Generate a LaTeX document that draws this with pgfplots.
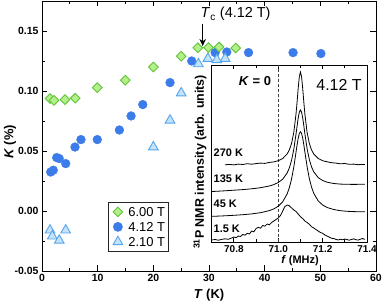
\documentclass[border=0pt]{standalone}
\usepackage{fontspec}
\setmainfont{Liberation Sans}
\usepackage{pgfplots}
\pgfplotsset{compat=1.18}
\usetikzlibrary{arrows.meta}
\definecolor{gfill}{HTML}{B2F08A}
\definecolor{gedge}{HTML}{62C23A}
\definecolor{cblue}{HTML}{3B7BEA}
\definecolor{tfill}{HTML}{C4E2FA}
\definecolor{tedge}{HTML}{55A6EC}
\begin{document}
\begin{tikzpicture}
\begin{axis}[
  at={(0,0)}, anchor=south west,
  scale only axis, width=334bp, height=270bp,
  xmin=0, xmax=60, ymin=-0.05, ymax=0.175,
  xtick={0,10,...,60}, ytick={-0.05,0,0.05,0.10,0.15},
  minor x tick num=1, minor y tick num=1,
  tick align=inside, major tick length=5.5bp, minor tick length=3bp,
  axis line style={line width=0.9bp},
  every tick/.style={line width=0.9bp, black},
  /pgf/number format/assume math mode=true,
  ticklabel style={font=\fontsize{10.5}{12}\selectfont\bfseries},
  yticklabel style={/pgf/number format/.cd, fixed, fixed zerofill, precision=2},
  xticklabel style={/pgf/number format/.cd, fixed, precision=0},
  legend cell align=left,
  legend style={at={(rel axis cs:0.1976,0.2567)}, anchor=north west,
    draw=black!85, line width=0.9bp, inner xsep=1bp, inner ysep=3bp,
    row sep=1.5bp, font=\fontsize{13}{15}\selectfont,
    nodes={text height=9.5bp, text depth=0bp}},
  legend image code/.code={\path (0bp,0bp) (16bp,0bp); \draw[#1] plot coordinates {(8bp,0bp)};},
]
\addlegendimage{only marks, mark=square*, mark size=3.4bp, mark options={rotate=45, fill=gfill, draw=gedge, line width=0.9bp}}
\addlegendentry{6.00 T}
\addlegendimage{only marks, mark=*, mark size=4.4bp, mark options={fill=cblue, draw=cblue}}
\addlegendentry{4.12 T}
\addlegendimage{only marks, mark=triangle*, mark size=5.6bp, mark options={fill=tfill, draw=tedge, line width=0.9bp}}
\addlegendentry{2.10 T}
% 4.12 T
\addplot[forget plot, only marks, mark=*, mark size=4.4bp, mark options={fill=cblue, draw=cblue}] coordinates {
(1.56,0.0325) (2.03,0.034) (2.64,0.0445) (3.1,0.0437) (4.26,0.0395) (5.93,0.0533) (7.0,0.0595) (9.93,0.0595) (13.9,0.0675) (16.0,0.0792) (18.1,0.0887) (23.0,0.107) (26.9,0.125) (31.1,0.132) (33.2,0.1325) (37.1,0.132) (45.1,0.132) (50.1,0.1312)
};
% 2.10 T
\addplot[forget plot, only marks, mark=triangle*, mark size=5.6bp, mark options={fill=tfill, draw=tedge, line width=0.9bp}] coordinates {
(1.44,-0.016) (1.85,-0.021) (3.1,-0.0245) (4.26,-0.016) (20.0,0.0533) (23.0,0.0756) (25.0,0.0983) (28.1,0.1225) (29.8,0.127) (31.4,0.126) (32.9,0.127)
};
% 6.00 T
\addplot[forget plot, only marks, mark=square*, mark size=3.4bp, mark options={rotate=45, fill=gfill, draw=gedge, line width=0.9bp}] coordinates {
(1.44,0.0937) (2.16,0.0922) (4.13,0.0928) (5.97,0.094) (9.93,0.1028) (14.96,0.109) (20.0,0.120) (25.0,0.129) (28.0,0.136) (29.9,0.1362) (31.8,0.1367) (34.8,0.1358)
};
\end{axis}
% inset
\begin{axis}[
  at={(169.7bp,29bp)}, anchor=south west,
  scale only axis, width=155.3bp, height=177bp,
  xmin=70.7, xmax=71.4, ymin=0, ymax=177,
  ytick=\empty, xtick={70.8,71.0,71.2,71.4}, minor xtick={70.9,71.1,71.3},
  tick align=inside, major tick length=4bp, minor tick length=2.5bp,
  axis line style={line width=0.9bp},
  every tick/.style={line width=0.9bp, black},
  axis background/.style={fill=white},
  /pgf/number format/assume math mode=true,
  ticklabel style={font=\fontsize{10}{12}\selectfont\bfseries},
  xticklabel style={/pgf/number format/.cd, fixed, fixed zerofill, precision=1},
]
\addplot[black!75, line width=0.9bp, dash pattern=on 3bp off 2bp] coordinates {(71.0,0) (71.0,177)};
% 270 K
\addplot[black, line width=0.8bp] coordinates {
(70.76,77.2)(70.78,77.6)(70.80,77.1)(70.82,77.9)(70.84,77.5)(70.86,78.3)(70.88,77.8)(70.90,78.4)(70.92,78.9)(70.94,78.6)(70.96,79.6)(70.98,80.1)(71.00,81.3)(71.02,83.5)(71.04,88.0)(71.05,92.1)(71.06,98.6)(71.07,109.5)(71.08,127.9)(71.085,140.5)(71.09,154.1)(71.095,165.4)(71.10,170)(71.105,165.4)(71.11,154.1)(71.115,140.5)(71.12,127.9)(71.13,109.5)(71.14,98.6)(71.15,92.1)(71.16,88.0)(71.18,83.5)(71.20,81.3)(71.22,80.2)(71.24,79.3)(71.26,78.9)(71.28,78.2)(71.30,78.5)(71.32,77.7)(71.34,77.9)(71.36,77.3)(71.38,77.6)(71.39,77.4)
};
% 135 K
\addplot[black, line width=0.8bp] coordinates {
(70.70,50.5)(70.72,50.7)(70.76,51.2)(70.80,51.8)(70.84,52.4)(70.88,53.2)(70.92,54.3)(70.96,56.0)(70.98,57.4)(71.00,59.5)(71.02,62.8)(71.04,69.0)(71.05,74.1)(71.06,81.7)(71.07,92.7)(71.08,107.8)(71.085,116.2)(71.09,124.1)(71.095,129.8)(71.10,132)(71.105,130.0)(71.11,124.3)(71.115,116.6)(71.12,108.2)(71.13,93.3)(71.14,82.5)(71.15,75.1)(71.16,70.2)(71.18,64.4)(71.20,61.5)(71.22,59.8)(71.25,58.5)(71.28,57.9)(71.31,57.7)(71.34,57.6)(71.37,57.7)(71.39,57.7)
};
% 45 K
\addplot[black, line width=0.8bp] coordinates {
(70.70,25.7)(70.72,25.8)(70.76,26.2)(70.80,26.7)(70.84,27.3)(70.88,28.1)(70.92,29.3)(70.96,31.4)(70.98,33.1)(71.00,35.8)(71.02,40.2)(71.04,48.1)(71.05,54.3)(71.06,63.1)(71.07,74.9)(71.08,89.8)(71.085,97.3)(71.09,103.9)(71.095,108.6)(71.10,110.3)(71.105,108.6)(71.11,104.1)(71.115,97.5)(71.12,90.0)(71.13,75.3)(71.14,63.5)(71.15,54.9)(71.16,48.7)(71.18,41.1)(71.20,37.0)(71.22,34.5)(71.25,32.5)(71.28,31.3)(71.31,30.7)(71.34,30.4)(71.37,30.2)(71.39,30.2)
};
% 1.5 K
\addplot[black, line width=0.8bp] coordinates {
(70.70,2.0)(70.715,2.5)(70.73,1.8)(70.745,2.6)(70.76,3.2)(70.775,2.7)(70.79,4.0)(70.80,5.0)(70.81,4.3)(70.82,6.0)(70.83,5.5)(70.84,7.5)(70.85,6.8)(70.86,8.7)(70.87,8.0)(70.88,11.0)(70.89,10.2)(70.90,13.5)(70.91,14.7)(70.92,13.8)(70.93,16.5)(70.94,15.8)(70.95,18.0)(70.96,17.2)(70.97,19.5)(70.98,21.0)(70.99,22.5)(71.00,24.0)(71.01,26.5)(71.02,31.0)(71.03,35.5)(71.04,37.0)(71.05,36.2)(71.06,34.0)(71.07,32.0)(71.08,30.5)(71.09,28.0)(71.10,25.3)(71.11,23.5)(71.12,21.0)(71.13,19.5)(71.14,17.8)(71.15,15.3)(71.16,14.0)(71.17,12.5)(71.18,11.0)(71.19,9.5)(71.20,8.7)(71.21,7.0)(71.22,6.0)(71.23,4.8)(71.24,3.7)(71.25,3.5)(71.26,2.6)(71.27,2.0)(71.28,2.8)(71.29,2.2)(71.30,3.0)(71.31,2.4)(71.32,1.8)(71.33,2.5)(71.34,3.2)(71.35,2.3)(71.36,1.9)(71.37,2.8)(71.38,3.5)(71.39,2.6)
};
\end{axis}
% annotations
\node[anchor=base west, inner sep=0, font=\fontsize{14.5}{17}\selectfont] at (158.5bp,253bp) {\textit{T}\textsubscript{c} (4.12 T)};
\draw[line width=1.2bp, -{Stealth[length=7bp,width=6.5bp]}] (160.7bp,247bp) -- (160.7bp,225bp);
\node[inner sep=0, font=\fontsize{13}{15}\selectfont\bfseries] at (213bp,190bp) {\textit{K} = 0};
\node[inner sep=0, font=\fontsize{16}{19}\selectfont] at (297bp,186bp) {4.12 T};
\node[anchor=west, inner sep=0, font=\fontsize{11}{13}\selectfont\bfseries] at (171.5bp,118bp) {270 K};
\node[anchor=west, inner sep=0, font=\fontsize{11}{13}\selectfont\bfseries] at (171.5bp,92.7bp) {135 K};
\node[anchor=west, inner sep=0, font=\fontsize{11}{13}\selectfont\bfseries] at (171.5bp,67.7bp) {45 K};
\node[anchor=west, inner sep=0, font=\fontsize{11}{13}\selectfont\bfseries] at (171.5bp,42.7bp) {1.5 K};
\node[rotate=90, inner sep=0, font=\fontsize{12.5}{14}\selectfont\bfseries] at (158bp,109bp) {\textsuperscript{31}P NMR intensity (arb. units)};
\node[inner sep=0, font=\fontsize{11}{13}\selectfont\bfseries] at (258bp,10bp) {\textit{f} (MHz)};
\node[inner sep=0, font=\fontsize{13}{15}\selectfont\bfseries] at (167bp,-24bp) {\textit{T} (K)};
\node[rotate=90, inner sep=0, font=\fontsize{13}{15}\selectfont\bfseries] at (-32bp,129bp) {\textit{K} (\%)};
\pgfresetboundingbox
\path[use as bounding box] (-42bp,-30bp) rectangle (340bp,271bp);
\end{tikzpicture}
\end{document}
